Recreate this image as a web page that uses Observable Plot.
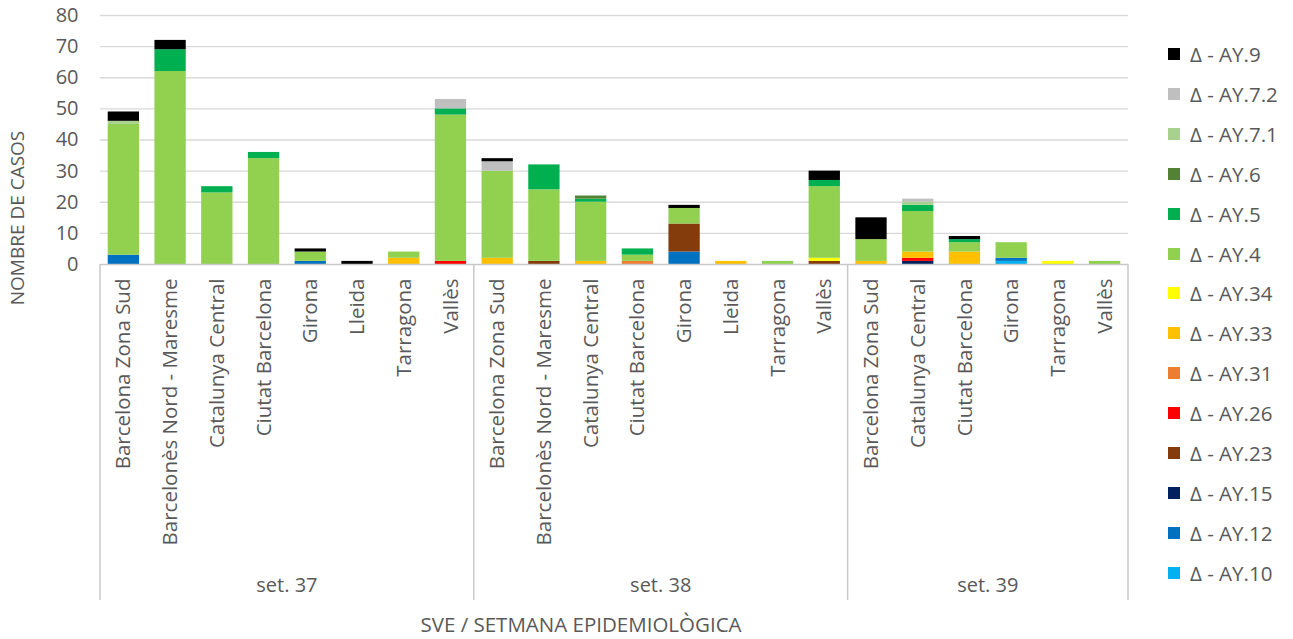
<!DOCTYPE html>
<html><head><meta charset="utf-8">
<script src="https://cdn.jsdelivr.net/npm/d3@7"></script>
<script src="https://cdn.jsdelivr.net/npm/@observablehq/plot@0.6"></script>
<style>
body{margin:0;background:#fff;font-family:"Open Sans",sans-serif;}
#wrap{position:relative;width:1293px;height:639px;overflow:hidden;}
#legend{position:absolute;left:1168px;top:0;}
.item{position:absolute;left:0;display:flex;align-items:center;white-space:nowrap;font-size:20.5px;color:#595959;line-height:22px;}
.sw{width:12px;height:12px;margin-right:10px;flex:none;}
</style></head><body><div id="wrap"><div id="legend"></div></div>
<script>
const weeks = ["set. 37", "set. 38", "set. 39"];
const regions37 = ["Barcelona Zona Sud", "Barcelonès Nord - Maresme", "Catalunya Central", "Ciutat Barcelona", "Girona", "Lleida", "Tarragona", "Vallès"];
const regions38 = ["Barcelona Zona Sud", "Barcelonès Nord - Maresme", "Catalunya Central", "Ciutat Barcelona", "Girona", "Lleida", "Tarragona", "Vallès"];
const regions39 = ["Barcelona Zona Sud", "Catalunya Central", "Ciutat Barcelona", "Girona", "Tarragona", "Vallès"];

// series from bottom of stack to top
const series = ["Δ - AY.10", "Δ - AY.12", "Δ - AY.15", "Δ - AY.23", "Δ - AY.26", "Δ - AY.31", "Δ - AY.33", "Δ - AY.34", "Δ - AY.4", "Δ - AY.5", "Δ - AY.6", "Δ - AY.7.1", "Δ - AY.7.2", "Δ - AY.9"];
const colors = ["#00b0f0", "#0070c0", "#002060", "#843c0c", "#ff0000", "#ed7d31", "#ffc000", "#ffff00", "#92d050", "#00b050", "#548235", "#a9d18e", "#bfbfbf", "#000000"];

// values per category: set.37 (8) | set.38 (8) | set.39 (6)
const AY10  = [0,0,0,0,0,0,0,0,  0,0,0,0,0,0,0,0,  0,0,0,1,0,0];
const AY12  = [3,0,0,0,1,0,0,0,  0,0,0,0,4,0,0,0,  0,0,0,1,0,0];
const AY15  = [0,0,0,0,0,0,0,0,  0,0,0,0,0,0,0,0,  0,1,0,0,0,0];
const AY23  = [0,0,0,0,0,0,0,0,  0,1,0,0,9,0,0,1,  0,0,0,0,0,0];
const AY26  = [0,0,0,0,0,0,0,1,  0,0,0,0,0,0,0,0,  0,1,0,0,0,0];
const AY31  = [0,0,0,0,0,0,0,0,  0,0,0,1,0,0,0,0,  0,0,0,0,0,0];
const AY33  = [0,0,0,0,0,0,2,0,  2,0,1,0,0,1,0,0,  1,2,4,0,0,0];
const AY34  = [0,0,0,0,0,0,0,0,  0,0,0,0,0,0,0,1,  0,0,0,0,1,0];
const AY4   = [42,62,23,34,3,0,2,47,  28,23,19,2,5,0,1,23,  7,13,3,5,0,1];
const AY5   = [0,7,2,2,0,0,0,2,  0,8,1,2,0,0,0,2,  0,2,1,0,0,0];
const AY6   = [0,0,0,0,0,0,0,0,  0,0,1,0,0,0,0,0,  0,0,0,0,0,0];
const AY71  = [1,0,0,0,0,0,0,0,  0,0,0,0,0,0,0,0,  0,1,0,0,0,0];
const AY72  = [0,0,0,0,0,0,0,3,  3,0,0,0,0,0,0,0,  0,1,0,0,0,0];
const AY9   = [3,3,0,0,1,1,0,0,  1,0,0,0,1,0,0,3,  7,0,1,0,0,0];
const yTicks = [0,10,20,30,40,50,60,70,80];

const seriesValues = [AY10, AY12, AY15, AY23, AY26, AY31, AY33, AY34, AY4, AY5, AY6, AY71, AY72, AY9];
const keys = [
  ...regions37.map(r => weeks[0] + "|" + r),
  ...regions38.map(r => weeks[1] + "|" + r),
  ...regions39.map(r => weeks[2] + "|" + r)
];
const rows = [];
keys.forEach((k, i) => {
  series.forEach((s, j) => {
    const v = seriesValues[j][i];
    if (v > 0) rows.push({key: k, series: s, value: v});
  });
});

const font = "'Open Sans', sans-serif";
const grey = "#595959";
const W = 1293, H = 639, mL = 100, mR = 165;
const pad = 0.33;
const S = (W - mR - mL) / keys.length;
const half = pad * S / 2;
const plot = Plot.plot({
  width: W, height: H,
  marginLeft: mL, marginRight: mR, marginTop: 15, marginBottom: 375,
  style: {fontFamily: font, fontSize: "20px", color: grey, background: "white", overflow: "visible"},
  x: {domain: keys, padding: pad, round: false, range: [mL - half, W - mR + half], label: null},
  y: {domain: [0, 80], label: null},
  color: {domain: series, range: colors},
  marks: [
    Plot.gridY(yTicks.slice(1), {stroke: "#d9d9d9", strokeOpacity: 1, strokeWidth: 1.3}),
    Plot.barY(rows, {x: "key", y: "value", fill: "series"}),
    Plot.ruleY([0], {stroke: "#c8c8c8", strokeWidth: 1.5}),
    Plot.axisY(yTicks, {tickSize: 0, tickPadding: 22, label: null, fontSize: 20, fill: grey}),
    Plot.axisX({tickSize: 0, tickRotate: -90, tickPadding: 14, tickFormat: d => d.split("|")[1], label: null, fontSize: 20.5, fill: grey})
  ]
});

const svg = d3.select(plot);
const xs = plot.scale("x");
const ys = plot.scale("y");
const step = xs.step, bw = xs.bandwidth;
const gap = (step - bw) / 2;
const y0 = ys.apply(0);
const sep = svg.append("g").attr("stroke", "#c8c8c8").attr("stroke-width", 1.5);
const lab = svg.append("g").attr("fill", grey).attr("font-family", font).attr("font-size", 20).attr("text-anchor", "middle");
weeks.forEach((w, i) => {
  const ks = keys.filter(k => k.startsWith(w + "|"));
  const xa = xs.apply(ks[0]) - gap;
  const xb = xs.apply(ks[ks.length - 1]) + bw + gap;
  sep.append("line").attr("x1", xa).attr("x2", xa).attr("y1", y0).attr("y2", 600);
  if (i === weeks.length - 1) sep.append("line").attr("x1", xb).attr("x2", xb).attr("y1", y0).attr("y2", 600);
  lab.append("text").attr("x", (xa + xb) / 2).attr("y", 592).text(w);
});
// axis titles
svg.append("text").attr("transform", "translate(24,218) rotate(-90)").attr("text-anchor", "middle")
  .attr("fill", grey).attr("font-family", font).attr("font-size", 19).text("NOMBRE DE CASOS");
svg.append("text").attr("x", 581).attr("y", 632).attr("text-anchor", "middle")
  .attr("fill", grey).attr("font-family", font).attr("font-size", 20.5).text("SVE / SETMANA EPIDEMIOLÒGICA");

document.getElementById("wrap").prepend(plot);

const legend = document.getElementById("legend");
series.slice().reverse().forEach((s, i) => {
  const c = colors[series.indexOf(s)];
  const it = document.createElement("div");
  it.className = "item";
  it.style.top = (54 + i * 39.9 - 11) + "px";
  it.innerHTML = `<span class="sw" style="background:${c}"></span><span>${s}</span>`;
  legend.appendChild(it);
});
</script>
</body></html>
